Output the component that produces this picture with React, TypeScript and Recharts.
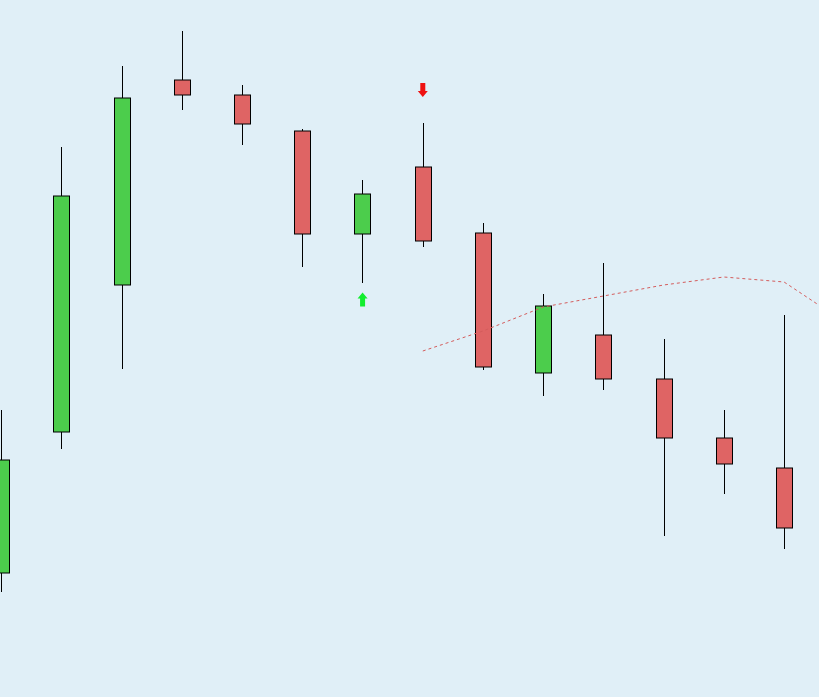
import React from 'react';
import { ComposedChart, Bar, Line, Scatter, XAxis, YAxis } from 'recharts';

// Session index of each candle (the last slot only carries the average)
const sessions = [0, 1, 2, 3, 4, 5, 6, 7, 8, 9, 10, 11, 12, 13, 14];
const opens = [92.7, 106.8, 121.5, 142.0, 140.5, 136.9, 126.6, 133.3, 126.7, 112.7, 116.5, 112.1, 106.2, 103.2, null];
const highs = [109.0, 135.3, 143.4, 146.9, 141.5, 137.1, 132.0, 137.7, 127.7, 120.6, 123.7, 116.1, 109.0, 118.5, null];
const lows = [90.8, 105.1, 113.1, 139.0, 135.5, 123.3, 121.7, 125.3, 113.0, 110.4, 111.0, 96.4, 100.6, 95.1, null];
const closes = [104.0, 130.4, 140.2, 140.5, 137.6, 126.6, 130.6, 125.9, 113.3, 119.4, 112.1, 106.2, 103.6, 97.2, null];
const movingAvg = [null, null, null, null, null, null, null, 114.9, 116.9, 119.3, 120.4, 121.5, 122.3, 121.8, 117.8];

// Trade signals
const buySignals = [{ i: 6, price: 120.05 }];
const sellSignals = [{ i: 7, price: 141.0 }];

const rows = sessions.map((i, k) => ({
  i,
  open: opens[k],
  high: highs[k],
  low: lows[k],
  close: closes[k],
  ma: movingAvg[k],
}));

const UP = '#4ccd4c';
const DOWN = '#df6464';

const Candle = (props: any) => {
  const { x, y, width, height, payload } = props;
  if (payload == null || payload.open == null || !height) return null;
  const { open, close, high, low } = payload;
  const k = height / (high - low);
  const top = y + (high - Math.max(open, close)) * k;
  const bottom = y + (high - Math.min(open, close)) * k;
  const cx = Math.round(x + width / 2) + 0.5;
  return (
    <g>
      <line x1={cx} x2={cx} y1={y} y2={y + height} stroke="#000" strokeWidth={1} />
      <rect
        x={Math.round(x) + 0.5}
        y={top}
        width={width}
        height={Math.max(1, bottom - top)}
        fill={close >= open ? UP : DOWN}
        stroke="#000"
        strokeWidth={1}
      />
    </g>
  );
};

const UpArrow = (props: any) => {
  const { cx, cy } = props;
  const pts = [
    [cx, cy - 7],
    [cx + 5, cy - 1],
    [cx + 2.5, cy - 1],
    [cx + 2.5, cy + 7],
    [cx - 2.5, cy + 7],
    [cx - 2.5, cy - 1],
    [cx - 5, cy - 1],
  ];
  return <polygon points={pts.map((p) => p.join(',')).join(' ')} fill="#12ee2e" />;
};

const DownArrow = (props: any) => {
  const { cx, cy } = props;
  const pts = [
    [cx, cy + 7],
    [cx + 5, cy + 1],
    [cx + 2.5, cy + 1],
    [cx + 2.5, cy - 7],
    [cx - 2.5, cy - 7],
    [cx - 2.5, cy + 1],
    [cx - 5, cy + 1],
  ];
  return <polygon points={pts.map((p) => p.join(',')).join(' ')} fill="#ee1111" />;
};

export default function App() {
  return (
    <div
      style={{
        position: 'fixed',
        left: 0,
        top: 0,
        width: 819,
        height: 697,
        overflow: 'hidden',
        background: '#e0eff7',
      }}
    >
      <ComposedChart
        width={819}
        height={697}
        data={rows}
        margin={{ top: 0, right: 0, bottom: 0, left: 0 }}
      >
        <XAxis
          dataKey="i"
          type="number"
          domain={[-0.0216, 13.58]}
          allowDataOverflow
          hide
        />
        <YAxis type="number" domain={[80.3, 150]} allowDataOverflow hide />
        <Bar
          dataKey={(d: any) => (d.open == null ? null : [d.low, d.high])}
          barSize={16}
          shape={<Candle />}
          isAnimationActive={false}
        />
        <Line
          type="linear"
          dataKey="ma"
          stroke="#d45c5c"
          strokeWidth={1}
          strokeDasharray="3 3"
          dot={false}
          activeDot={false}
          isAnimationActive={false}
        />
        <Scatter data={buySignals} dataKey="price" shape={<UpArrow />} isAnimationActive={false} />
        <Scatter data={sellSignals} dataKey="price" shape={<DownArrow />} isAnimationActive={false} />
      </ComposedChart>
    </div>
  );
}
